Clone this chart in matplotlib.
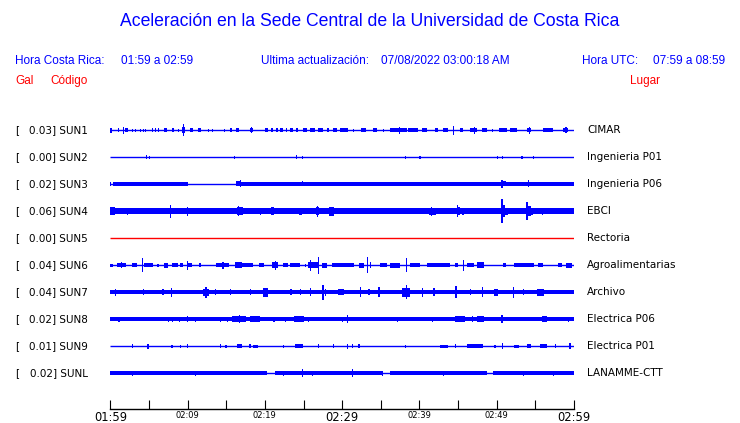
import matplotlib
matplotlib.use("Agg")
import matplotlib.pyplot as plt

# station table
codes = ["SUN1", "SUN2", "SUN3", "SUN4", "SUN5", "SUN6", "SUN7", "SUN8", "SUN9", "SUNL"]
gal = [0.03, 0.00, 0.02, 0.06, 0.00, 0.04, 0.04, 0.02, 0.01, 0.02]
places = ["CIMAR", "Ingenieria P01", "Ingenieria P06", "EBCI", "Rectoria",
          "Agroalimentarias", "Archivo", "Electrica P06", "Electrica P01", "LANAMME-CTT"]

# time axis, minutes after 01:59
time_ticks = list(range(0, 61, 5))
time_labels = ["01:59", "", "02:09", "", "02:19", "", "02:29", "",
               "02:39", "", "02:49", "", "02:59"]
big_labels = ["01:59", "02:29", "02:59"]

# continuous noise band per station: (start min, end min, half amplitude)
sun3_band = [(0.3, 10.1, 1.7), (16.3, 60.0, 1.7)]
sun4_band = [(0.0, 60.0, 2.6)]
sun7_band = [(0.0, 60.0, 2.1)]
sun8_band = [(0.0, 60.0, 1.7)]
sunl_band = [(0.0, 20.3, 1.6), (21.3, 35.2, 1.6), (36.2, 48.8, 1.6), (49.5, 60.0, 1.6)]

# bursts per station: (start min, end min, half amplitude)
sun1_bursts = [
    (0.0, 0.26, 2.5), (1.0, 1.15, 2), (1.65, 1.8, 3.5), (1.9, 2.35, 2.2), (2.8, 2.95, 1.5),
    (3.2, 3.35, 1.5), (3.85, 4.0, 1.5), (4.25, 4.4, 1.5), (4.5, 4.65, 1.5), (5.4, 5.55, 2),
    (5.8, 5.95, 2), (6.2, 6.35, 2), (6.95, 7.4, 1.8), (8.0, 8.3, 2.2), (8.8, 8.95, 1.5),
    (9.3, 9.7, 2.8), (9.45, 9.6, 6), (10.3, 10.7, 2), (11.3, 11.7, 2.2), (12.65, 12.8, 1.5),
    (13.15, 13.3, 1.5), (14.7, 14.85, 1.5), (15.5, 15.8, 2), (16.3, 16.7, 2.2), (18.1, 18.5, 2.2),
    (18.2, 18.35, 3), (20.0, 20.4, 2), (20.8, 21.0, 2), (21.5, 21.7, 2), (22.0, 22.3, 2),
    (22.7, 22.9, 2), (23.3, 23.6, 2), (24.0, 24.3, 2), (24.9, 25.5, 2), (25.9, 26.5, 2),
    (26.9, 27.5, 2), (28.1, 28.3, 2), (28.8, 29.3, 2), (29.7, 30.3, 2), (30.3, 30.8, 2),
    (31.4, 31.55, 1.5), (32.4, 33.1, 2), (34.0, 34.5, 2), (35.3, 35.45, 1.5), (36.2, 38.4, 2),
    (37.3, 37.45, 3.5), (38.5, 39.8, 2), (40.3, 41.0, 2), (42.0, 42.4, 2), (43.0, 43.7, 2),
    (44.3, 44.45, 4.5), (45.3, 45.6, 2), (46.5, 47.5, 2.2), (47.0, 47.15, 3.5), (48.1, 48.8, 2),
    (49.4, 49.55, 1.5), (50.3, 51.3, 2.2), (51.7, 52.6, 2), (53.9, 54.5, 2.2), (54.2, 54.35, 3.5),
    (56.0, 57.3, 2), (58.6, 59.2, 2.2), (58.9, 59.05, 3),
]
sun2_bursts = [
    (4.6, 4.75, 2), (5.0, 5.15, 1.5), (16.0, 16.15, 1.5), (24.0, 24.2, 2), (24.8, 24.95, 1.5),
    (38.1, 38.25, 1.5), (40.0, 40.15, 1.5), (50.0, 50.15, 1.5), (50.65, 50.8, 1.5),
    (53.2, 53.35, 1.5), (54.65, 54.8, 1.5),
]
sun3_bursts = [
    (0.0, 0.12, 1.8), (16.3, 16.9, 2.5), (16.8, 16.95, 3.5), (24.8, 24.95, 2.5),
    (50.6, 50.75, 4), (50.75, 51.2, 2.5), (54.0, 54.15, 3.5),
]
sun4_bursts = [
    (0.0, 0.6, 4), (2.1, 2.3, 3.5), (2.9, 3.05, 3), (3.6, 3.75, 3), (4.2, 4.35, 3), (4.7, 4.85, 3),
    (6.15, 6.3, 3.2), (6.65, 6.8, 3), (7.7, 7.85, 6.5), (7.85, 8.4, 3.2), (9.0, 9.15, 3),
    (9.9, 10.05, 4.5), (10.55, 10.7, 3), (11.6, 11.75, 3), (13.9, 14.05, 3), (14.4, 14.55, 3),
    (16.4, 17.2, 4), (16.55, 16.7, 5), (17.8, 17.95, 3), (18.7, 18.85, 3.2), (19.35, 19.5, 3.5),
    (20.0, 20.15, 3), (20.8, 21.2, 4), (22.2, 22.35, 3), (23.2, 23.35, 3), (24.4, 24.8, 3.5),
    (25.4, 25.55, 3.2), (26.6, 27.0, 4), (26.75, 26.9, 5.5), (28.3, 29.0, 4.5), (30.95, 31.1, 3),
    (32.65, 32.8, 3), (33.55, 33.7, 3), (35.7, 36.3, 3.2), (37.05, 37.2, 3), (38.35, 38.5, 3),
    (38.7, 38.85, 3.2), (41.2, 42.1, 3.5), (41.5, 41.65, 4.5), (42.9, 43.4, 3.2), (44.8, 45.3, 4),
    (44.85, 45.0, 6.2), (45.5, 45.8, 3.5), (46.2, 46.35, 3), (48.7, 48.85, 3.2), (49.35, 49.5, 3.2),
    (50.0, 50.15, 3.2), (50.6, 50.75, 12), (50.75, 51.1, 6), (51.1, 51.5, 3.5), (53.85, 54.0, 9),
    (54.0, 54.4, 5), (54.4, 54.7, 3.5), (55.8, 55.95, 3.5), (57.7, 57.85, 2.9), (59.8, 59.95, 3),
]
sun5_bursts = []
sun6_bursts = [
    (0.0, 0.3, 1.5), (0.9, 2.0, 2), (1.4, 1.55, 3), (2.8, 3.5, 2.2), (4.1, 4.25, 6.7),
    (4.3, 5.5, 2.2), (6.1, 6.25, 1.5), (6.9, 7.5, 2.5), (8.0, 8.7, 2), (9.0, 9.4, 2),
    (9.9, 10.05, 4.5), (10.0, 10.6, 2), (11.5, 11.8, 2.2), (13.7, 15.3, 2.2), (14.5, 14.65, 3.5),
    (16.1, 17.0, 3), (17.1, 18.5, 2), (19.2, 19.9, 2.2), (20.9, 21.7, 3), (21.3, 21.45, 4.5),
    (22.4, 23.0, 2.2), (23.3, 24.6, 2), (25.2, 25.35, 1.5), (25.6, 26.9, 3), (25.8, 25.95, 5.5),
    (26.9, 27.05, 8.5), (27.4, 28.0, 2.5), (28.7, 30.3, 2.2), (30.3, 31.5, 2), (32.2, 32.8, 2.5),
    (33.25, 33.4, 8), (33.6, 33.75, 3), (34.9, 35.8, 2), (36.2, 37.5, 2.5), (38.25, 38.4, 7),
    (38.8, 40.1, 2.2), (41.0, 44.0, 2), (44.6, 45.0, 2), (45.6, 45.75, 5.5), (46.2, 47.0, 2.2),
    (47.5, 48.3, 3), (50.8, 51.2, 2), (52.2, 54.8, 2), (55.3, 56.0, 2.2), (57.9, 58.5, 2.2),
    (59.0, 59.7, 2.5),
]
sun7_bursts = [
    (0.6, 0.75, 3.5), (4.2, 4.35, 2.8), (6.7, 7.0, 3.2), (7.8, 7.95, 4.5), (12.0, 12.8, 3.5),
    (12.3, 12.45, 5.5), (13.55, 13.7, 3), (15.5, 15.65, 2.8), (18.05, 18.2, 3), (19.8, 20.4, 4.5),
    (23.3, 23.45, 2.8), (24.55, 24.7, 2.8), (25.8, 25.95, 4), (27.4, 27.6, 7.5), (27.8, 27.95, 3.5),
    (29.5, 30.3, 2.6), (32.3, 32.45, 5), (33.4, 33.55, 2.8), (34.7, 34.85, 5), (37.8, 38.8, 4.5),
    (38.3, 38.45, 7), (40.3, 40.45, 4.5), (41.8, 41.95, 4), (44.65, 44.8, 6), (46.5, 46.65, 3.2),
    (48.1, 48.25, 5), (49.6, 50.2, 3.5), (52.1, 52.25, 5.5), (53.4, 53.55, 3), (55.2, 56.1, 3.5),
]
sun8_bursts = [
    (1.05, 1.2, 2.5), (4.3, 5.5, 2.3), (7.45, 7.6, 2.5), (8.0, 8.15, 2.5), (8.9, 9.05, 2.5),
    (9.9, 10.05, 3), (10.9, 11.05, 2.5), (14.2, 14.35, 2.5), (15.1, 15.25, 2.5), (15.8, 17.5, 2.6),
    (16.6, 16.75, 4), (18.1, 19.4, 2.6), (20.0, 20.4, 2.3), (21.1, 21.25, 2.5), (21.7, 21.85, 2.2),
    (22.6, 22.75, 2.5), (23.8, 25.0, 2.6), (25.6, 25.75, 2.5), (26.9, 27.6, 2.3), (28.8, 29.1, 2.3),
    (30.0, 30.15, 2.5), (30.6, 30.75, 4), (31.3, 32.6, 2.3), (33.6, 33.75, 2.2), (37.1, 37.25, 2.5),
    (37.9, 38.6, 2.3), (39.2, 40.5, 2.3), (41.6, 41.75, 2.5), (42.7, 43.7, 2.3), (44.6, 45.9, 2.6),
    (46.8, 46.95, 3), (47.5, 48.3, 2.6), (49.4, 49.8, 2.3), (50.6, 50.75, 4), (51.6, 52.9, 2.3),
    (54.0, 54.5, 2.3), (55.8, 56.5, 3), (57.3, 57.8, 2.3), (59.2, 59.35, 2.5),
]
sun9_bursts = [
    (2.8, 2.95, 2), (4.75, 5.0, 2.5), (7.9, 8.05, 1.5), (9.05, 9.2, 1.5), (9.9, 10.05, 2),
    (14.2, 14.35, 2), (14.9, 15.05, 1.5), (16.4, 17.1, 2.2), (18.0, 18.15, 2), (18.5, 19.1, 1.5),
    (22.3, 22.45, 1.5), (23.9, 24.9, 2.2), (26.9, 27.05, 2), (28.8, 28.95, 2), (30.6, 30.75, 2.5),
    (31.3, 31.45, 2), (32.1, 32.25, 2), (38.1, 38.25, 1.5), (42.7, 43.7, 1.5), (44.6, 44.75, 2),
    (46.1, 48.2, 1.8), (49.7, 49.85, 1.5), (50.7, 50.85, 3), (52.3, 52.9, 1.5), (53.9, 54.5, 2),
    (55.6, 56.5, 1.8), (57.5, 57.65, 2), (59.4, 59.55, 3),
]
sunl_bursts = [
    (2.8, 2.95, 2.5), (10.9, 11.05, 2.5), (22.3, 22.45, 2.5), (24.8, 24.95, 4), (26.1, 26.25, 2.5),
    (31.3, 31.45, 4), (35.1, 35.25, 2.5), (43.0, 43.15, 2.5), (53.4, 53.55, 2.5), (57.3, 57.45, 2.5),
]

bands = [[], [], sun3_band, sun4_band, [], [], sun7_band, sun8_band, [], sunl_band]
bursts = [sun1_bursts, sun2_bursts, sun3_bursts, sun4_bursts, sun5_bursts,
          sun6_bursts, sun7_bursts, sun8_bursts, sun9_bursts, sunl_bursts]

W, H = 740, 423
BLUE = "#0000ff"
RED = "#ff0000"


def fx(x):
    return x / W


def fy(y):
    return 1 - y / H


fig = plt.figure(figsize=(W / 100, H / 100), dpi=100)
fig.patch.set_facecolor("white")

# header
fig.text(fx(370), fy(22), "Aceleración en la Sede Central de la Universidad de Costa Rica",
         ha="center", va="center", color=BLUE, fontsize=12.7, family="Liberation Sans")
hdr = dict(va="center", color=BLUE, fontsize=8.5, family="Liberation Sans")
fig.text(fx(15), fy(61), "Hora Costa Rica:", ha="left", **hdr)
fig.text(fx(121), fy(61), "01:59 a 02:59", ha="left", **hdr)
fig.text(fx(261), fy(61), "Ultima actualización:", ha="left", **hdr)
fig.text(fx(381), fy(61), "07/08/2022 03:00:18 AM", ha="left", **hdr)
fig.text(fx(582), fy(61), "Hora UTC:", ha="left", **hdr)
fig.text(fx(653), fy(61), "07:59 a 08:59", ha="left", **hdr)
red = dict(va="center", color=RED, fontsize=8.5, family="Liberation Sans")
fig.text(fx(15), fy(81), "Gal", ha="left", **red)
fig.text(fx(50), fy(81), "Código", ha="left", **red)
fig.text(fx(630), fy(81), "Lugar", ha="left", **red)

# traces, y in pixel units from top
x0, x1 = 110.3, 574.0
y_top, y_axis = 115.0, 409.0
ax = fig.add_axes([fx(x0), fy(y_axis), fx(x1 - x0), (y_axis - y_top) / H])
ax.set_xlim(0, 60)
ax.set_ylim(y_axis, y_top)
ax.set_facecolor("none")

for i in range(len(codes)):
    yc = 130 + 27 * i
    color = RED if gal[i] == 0 and not bursts[i] else BLUE
    ax.plot([0, 60], [yc, yc], color=color, lw=1.0, solid_capstyle="butt")
    for t0, t1, a in bands[i]:
        ax.bar(t0, 2 * a, width=t1 - t0, bottom=yc - a, align="edge", color=color, linewidth=0)
    for t0, t1, a in bursts[i]:
        ax.bar(t0, 2 * a, width=t1 - t0, bottom=yc - a, align="edge", color=color, linewidth=0)

    fig.text(fx(15), fy(yc), "[", ha="left", va="center", fontsize=7.5, family="DejaVu Sans")
    fig.text(fx(87.5), fy(yc), f"{gal[i]:.2f}] {codes[i]}", ha="right", va="center",
             fontsize=7.5, family="DejaVu Sans")
    fig.text(fx(587), fy(yc), places[i], ha="left", va="center", fontsize=7.5,
             family="DejaVu Sans")

for side in ["top", "left", "right"]:
    ax.spines[side].set_visible(False)
ax.spines["bottom"].set_linewidth(1.0)
ax.set_yticks([])
ax.set_xticks(time_ticks)
ax.set_xticklabels(time_labels)
ax.tick_params(axis="x", direction="in", length=6.5, width=0.8, pad=1.5)
for lab in ax.get_xticklabels():
    if lab.get_text() in big_labels:
        lab.set_fontsize(8.3)
    else:
        lab.set_fontsize(6)

fig.savefig("out.png", dpi=100)
